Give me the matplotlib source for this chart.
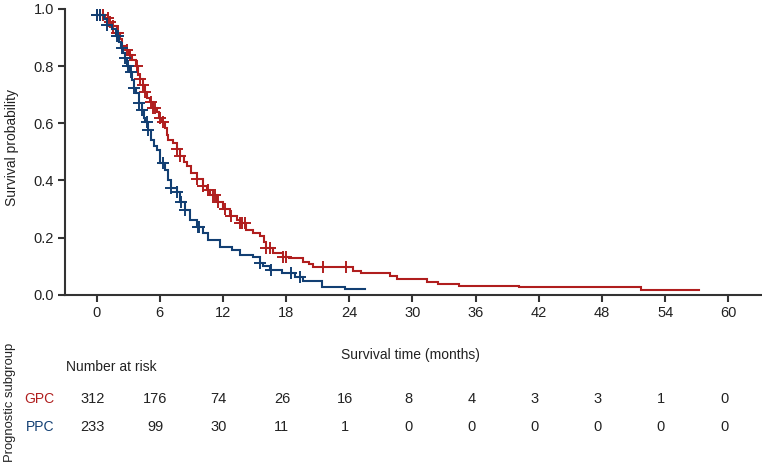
import numpy as np
import matplotlib
matplotlib.use("Agg")
import matplotlib.pyplot as plt
from matplotlib.transforms import blended_transform_factory

plt.rcParams['font.family'] = ['Liberation Sans', 'DejaVu Sans']

# ---- data ----
gpc_times = [0, 0.8, 1.2, 1.5, 1.9, 2.2, 2.4, 2.8, 3.1, 3.4, 3.7, 3.9, 4.1, 4.4, 4.6, 4.8,
             5.1, 5.4, 5.7, 5.9, 6.2, 6.5, 6.7, 6.8, 7.3, 7.6, 7.9, 8.3, 8.6, 9.0, 9.5,
             10.1, 10.5, 10.8, 11.4, 12.0, 12.7, 13.3, 13.6, 14.2, 14.9, 15.5, 15.9, 16.1,
             16.8, 17.7, 18.3, 19.6, 20.2, 20.6, 24.4, 25.1, 27.9, 28.5, 31.4, 32.4, 34.4,
             40.1, 51.7]
gpc_surv = [0.98, 0.97, 0.955, 0.94, 0.915, 0.895, 0.87, 0.855, 0.84, 0.82, 0.80, 0.77, 0.755,
            0.735, 0.71, 0.69, 0.675, 0.655, 0.64, 0.62, 0.605, 0.585, 0.56, 0.54, 0.53, 0.51,
            0.485, 0.465, 0.45, 0.425, 0.405, 0.38, 0.365, 0.35, 0.325, 0.30, 0.275, 0.26,
            0.25, 0.228, 0.215, 0.205, 0.186, 0.163, 0.145, 0.133, 0.127, 0.116, 0.108,
            0.098, 0.084, 0.075, 0.065, 0.055, 0.043, 0.036, 0.031, 0.027, 0.016]
gpc_end = 57.2
gpc_censor = [0.0, 0.3, 0.6, 1.1, 1.3, 1.6, 1.9, 2.05, 2.85, 3.15, 3.8, 4.1, 4.45, 4.6, 5.2,
              5.4, 5.55, 6.0, 6.35, 7.6, 7.9, 9.5, 10.1, 10.6, 11.1, 11.25, 11.5, 12.2,
              12.75, 13.6, 13.8, 14.1, 16.1, 16.5, 17.7, 18.0, 21.5, 23.7]

ppc_times = [0, 0.7, 1.0, 1.5, 1.8, 2.1, 2.3, 2.5, 2.7, 2.9, 3.2, 3.4, 3.6, 3.7, 4.0, 4.3,
             4.5, 4.6, 4.9, 5.2, 5.5, 5.7, 6.0, 6.5, 6.8, 7.1, 7.6, 7.9, 8.4, 8.9, 9.5,
             10.1, 10.6, 11.7, 12.9, 13.6, 14.9, 15.5, 15.8, 16.5, 17.6, 18.8, 19.6, 21.4,
             23.6]
ppc_surv = [0.98, 0.965, 0.945, 0.93, 0.905, 0.885, 0.862, 0.845, 0.83, 0.80, 0.78, 0.75,
            0.725, 0.705, 0.67, 0.645, 0.62, 0.605, 0.575, 0.54, 0.52, 0.505, 0.46, 0.435,
            0.40, 0.372, 0.36, 0.325, 0.295, 0.262, 0.238, 0.215, 0.19, 0.168, 0.155, 0.14,
            0.133, 0.11, 0.10, 0.086, 0.075, 0.061, 0.048, 0.028, 0.019]
ppc_end = 25.5
ppc_censor = [0.0, 0.3, 1.0, 1.9, 2.05, 2.4, 2.7, 3.0, 3.3, 3.6, 4.0, 4.3, 4.8, 4.9, 6.3,
              7.1, 7.6, 8.0, 8.4, 9.6, 9.75, 15.5, 16.6, 18.5, 19.3]

risk_times = [0, 6, 12, 18, 24, 30, 36, 42, 48, 54, 60]
gpc_risk = [312, 176, 74, 26, 16, 8, 4, 3, 3, 1, 0]
ppc_risk = [233, 99, 30, 11, 1, 0, 0, 0, 0, 0, 0]

groups = ["GPC", "PPC"]
red = "#B01E1E"
blue = "#123F73"
txt = "#222222"
FS = 10

W, H = 762, 466
fig = plt.figure(figsize=(W / 100, H / 100), dpi=100)
ax = fig.add_axes([65 / W, 1 - 294.7 / H, (W - 65) / W, (294.7 - 9) / H])


def step_xy(times, surv, end):
    xs = list(times) + [end]
    ys = list(surv) + [surv[-1]]
    return xs, ys


def level_at(times, surv, t):
    idx = np.searchsorted(np.asarray(times), t, side='right') - 1
    idx = np.clip(idx, 0, len(surv) - 1)
    return np.asarray(surv)[idx]


for times, surv, end, cens, col in [(gpc_times, gpc_surv, gpc_end, gpc_censor, red),
                                     (ppc_times, ppc_surv, ppc_end, ppc_censor, blue)]:
    xs, ys = step_xy(times, surv, end)
    ax.step(xs, ys, where='post', color=col, lw=1.5, solid_joinstyle='miter')
    ax.plot(cens, level_at(times, surv, np.asarray(cens)), linestyle='none', marker='+',
            markersize=9, markeredgewidth=1.4, color=col)

ax.set_xlim(-3, 63.2)
ax.set_ylim(0, 1.0)
ax.set_xticks(risk_times)
ax.set_yticks([0, 0.2, 0.4, 0.6, 0.8, 1.0])
ax.set_yticklabels(["0.0", "0.2", "0.4", "0.6", "0.8", "1.0"])
for s in ['top', 'right']:
    ax.spines[s].set_visible(False)
for s in ['left', 'bottom']:
    ax.spines[s].set_color('#333333')
    ax.spines[s].set_linewidth(1.5)
    ax.spines[s].set_clip_on(False)
ax.tick_params(axis='both', direction='out', length=5, width=1.5, color='#333333',
               labelsize=FS + 0.5, labelcolor=txt, pad=3)

fig.text(12 / W, 1 - 147 / H, "Survival probability", ha='center', va='center',
         rotation=90, fontsize=FS, color=txt)
fig.text(410 / W, 1 - 355 / H, "Survival time (months)", ha='center', va='center',
         fontsize=FS, color=txt)
fig.text(66 / W, 1 - 367 / H, "Number at risk", ha='left', va='center', fontsize=FS, color=txt)
fig.text(10 / W, 1 - 402 / H, "Prognostic subgroup", ha='center', va='center', rotation=90,
         fontsize=FS - 0.6, color=txt)

fig.text(54 / W, 1 - 399 / H, groups[0], ha='right', va='center', fontsize=FS, color=red)
fig.text(54 / W, 1 - 427 / H, groups[1], ha='right', va='center', fontsize=FS, color=blue)

tr = blended_transform_factory(ax.transData, fig.transFigure)
for t, g, p in zip(risk_times, gpc_risk, ppc_risk):
    ax.text(t - 0.4, 1 - 399 / H, str(g), transform=tr, ha='center', va='center',
            fontsize=FS + 0.5, color=txt, clip_on=False)
    ax.text(t - 0.4, 1 - 427 / H, str(p), transform=tr, ha='center', va='center',
            fontsize=FS + 0.5, color=txt, clip_on=False)

fig.savefig("out.png", dpi=100)
